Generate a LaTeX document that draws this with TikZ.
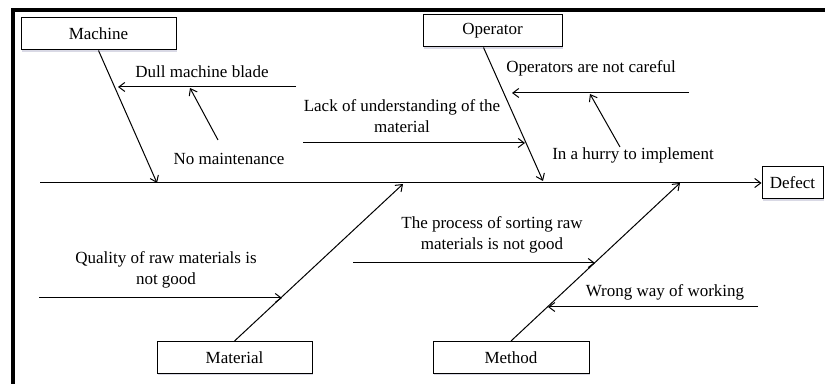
\documentclass[tikz,border=0pt]{standalone}
\usepackage{fontspec}
\setmainfont{Liberation Serif}
\usetikzlibrary{arrows.meta,calc,shadows}

\tikzset{
  catbox/.style={draw, line width=0.5pt, fill=white, minimum height=16pt,
    inner sep=0pt, font=\fontsize{8.5}{10.5}\selectfont,
    drop shadow={shadow xshift=0.5pt, shadow yshift=-0.8pt, fill=blue!20!gray, opacity=0.25}},
  bone/.style={line width=0.5pt, -{Straight Barb[length=3pt,width=4.5pt]}},
  causetext/.style={inner sep=0pt, align=center, font=\fontsize{8.5}{10.5}\selectfont},
}

\begin{document}
\begin{tikzpicture}[x=0.5pt, y=-0.5pt]
		\useasboundingbox (0,0) rectangle (825,384);

		% frame
		\draw [line width=1.8pt] (825,10) -- (13,10) -- (13,384);

		% categories
		\node [catbox, minimum width=77.5pt] (machine) at (98.5,34) {Machine};
		\node [catbox, minimum width=69.5pt] (opr) at (492.5,31) {Operator};
		\node [catbox, minimum width=77.5pt] (material) at (234.5,357.5) {Material};
		\node [catbox, minimum width=78pt] (method) at (511,357.5) {Method};
		\node [catbox, minimum width=30.5pt] (defect) at (792.5,183) {Defect};

		% spine and bones
		\coordinate (sp) at (40,183);
		\coordinate (mb) at (157,183);
		\coordinate (ob) at (543,181);
		\coordinate (tb) at (403,184);
		\coordinate (wb) at (680,183);

		\draw [bone] (sp) -- (defect.west);
		\draw [bone] (machine.south) -- (mb);
		\draw [bone] ($(opr.south)+(-9,0)$) -- (ob);
		\draw [bone] (material.north) -- (tb);
		\draw [bone] (method.north) -- (wb);

		% causes
		\coordinate (c1a) at (296,87);   \coordinate (c1b) at (118,87);
		\coordinate (c2a) at (218,140);  \coordinate (c2b) at (190,88);
		\coordinate (c3a) at (303,143);  \coordinate (c3b) at (525,143);
		\coordinate (c4a) at (689,93);   \coordinate (c4b) at (512,93);
		\coordinate (c5a) at (620,147);  \coordinate (c5b) at (590,94);
		\coordinate (c6a) at (39,298);   \coordinate (c6b) at (282,298);
		\coordinate (c7a) at (353,263);  \coordinate (c7b) at (595,263);
		\coordinate (c8a) at (758,307);  \coordinate (c8b) at (548,307);

		\draw [bone] (c1a) -- (c1b);
		\draw [bone] (c2a) -- (c2b);
		\draw [bone] (c3a) -- (c3b);
		\draw [bone] (c4a) -- (c4b);
		\draw [bone] (c5a) -- (c5b);
		\draw [bone] (c6a) -- (c6b);
		\draw [bone] (c7a) -- (c7b);
		\draw [bone] (c8a) -- (c8b);

		\node [causetext] (t1) at (202,72) {Dull machine blade};
		\node [causetext] (t2) at (229,159) {No maintenance};
		\node [causetext] (t3) at (402,116) {Lack of understanding of the\\material};
		\node [causetext] (t4) at (591,68) {Operators are not careful};
		\node [causetext] (t5) at (633,155) {In a hurry to implement};
		\node [causetext] (t6) at (166,270) {Quality of raw materials is\\not good};
		\node [causetext] (t7) at (492,235) {The process of sorting raw\\materials is not good};
		\node [causetext] (t8) at (665,292) {Wrong way of working};
	\end{tikzpicture}
\end{document}
